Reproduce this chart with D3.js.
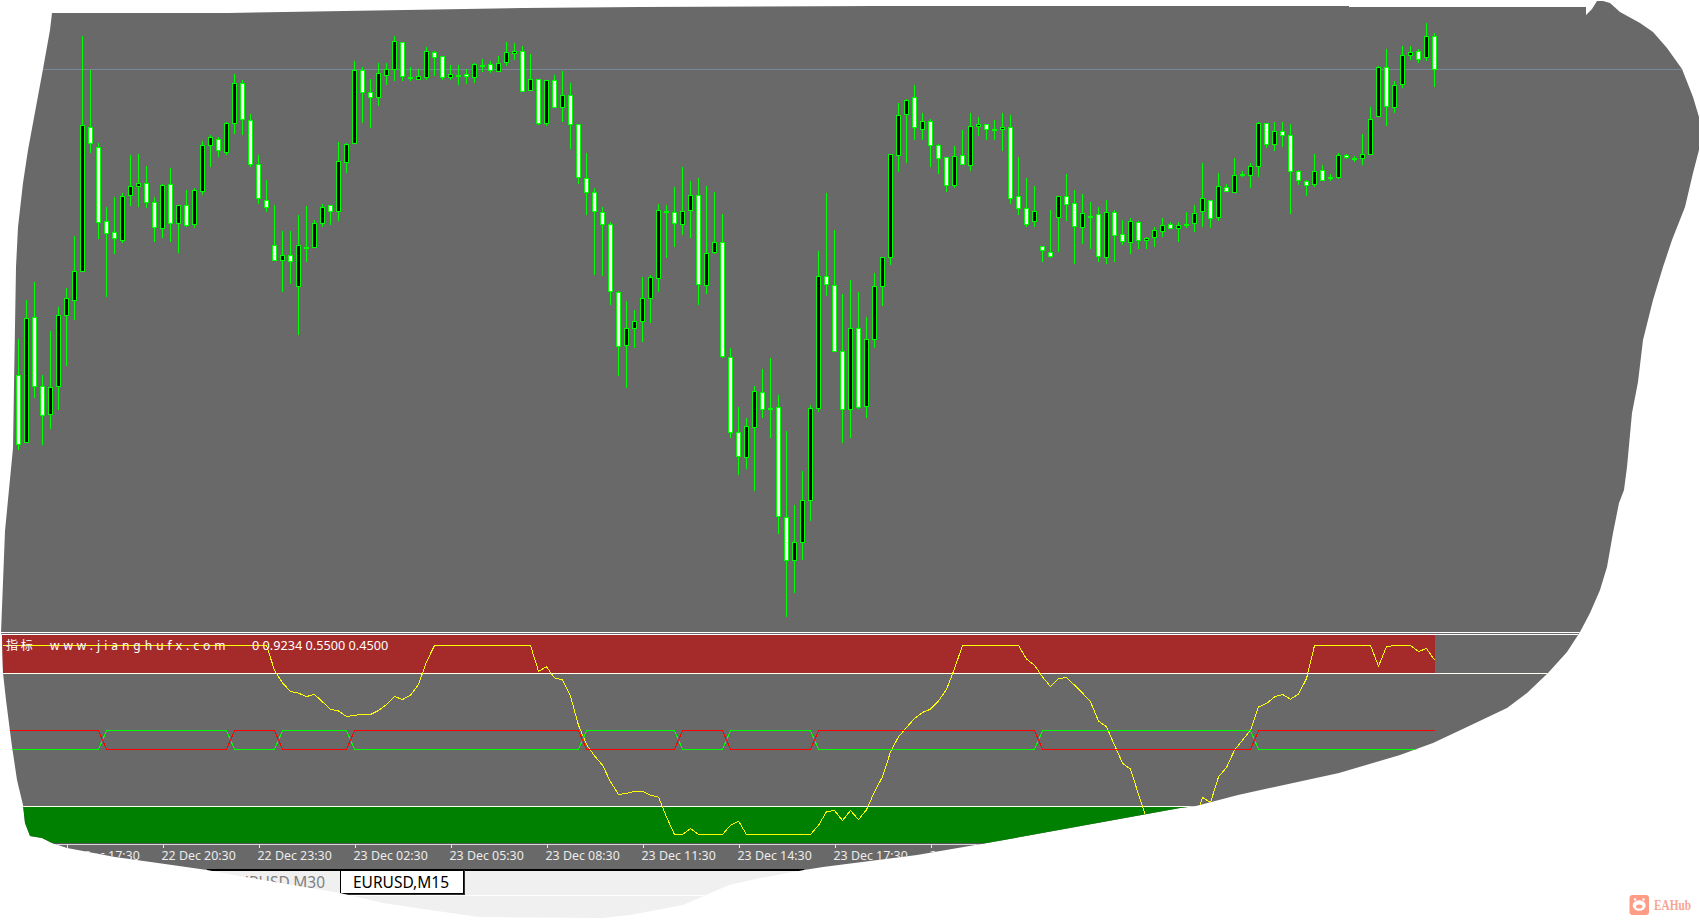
<!DOCTYPE html>
<html><head><meta charset="utf-8"><title>EURUSD,M15</title>
<script src="https://cdn.jsdelivr.net/npm/d3@7"></script>
<style>html,body{margin:0;padding:0;background:#fff;overflow:hidden}svg{display:block}</style>
</head><body><svg id="c" width="1700" height="920"></svg>
<script>
// Candle values, in points on the price axis
const opens=[873,672,1048,840,756,840,1054,1098,1185,1618,1558,1335,1302,1278,1413,1440,1450,1393,1314,1447,1330,1384,1326,1425,1564,1582,1542,1630,1750,1639,1506,1399,1263,1219,1233,1140,1256,1257,1330,1384,1366,1513,1570,1789,1723,1708,1774,1792,1873,1769,1762,1768,1842,1830,1768,1775,1777,1768,1803,1807,1785,1813,1840,1846,1728,1762,1629,1759,1678,1714,1627,1465,1423,1363,1327,1123,963,1015,1035,1105,1165,1367,1363,1327,1368,1414,1144,1242,1273,928,703,628,718,822,776,778,448,319,373,499,775,1171,1143,946,772,1015,780,982,1141,1228,1534,1657,1707,1612,1635,1564,1528,1444,1534,1504,1621,1627,1612,1612,1618,1411,1375,1335,1261,1243,1347,1411,1390,1317,1352,1357,1227,1363,1297,1273,1333,1279,1288,1306,1327,1315,1328,1330,1366,1399,1348,1438,1422,1476,1474,1501,1630,1567,1606,1594,1486,1456,1447,1489,1466,1467,1534,1524,1525,1536,1651,1798,1678,1747,1834,1846,1828,1891];
const highs=[982,1100,1153,875,1007,1078,1135,1292,1892,1790,1570,1378,1409,1420,1535,1538,1502,1409,1448,1496,1384,1430,1435,1577,1595,1588,1634,1778,1760,1658,1535,1460,1385,1307,1307,1355,1382,1340,1388,1384,1574,1570,1817,1798,1762,1811,1811,1892,1873,1799,1792,1859,1846,1831,1805,1805,1792,1810,1822,1816,1832,1874,1871,1862,1838,1762,1759,1775,1787,1750,1627,1540,1435,1378,1334,1126,1097,1070,1169,1174,1388,1384,1438,1499,1456,1465,1442,1423,1357,955,778,746,842,892,926,815,706,484,586,785,1247,1421,1310,1118,1160,1124,1048,1181,1228,1538,1690,1702,1744,1660,1642,1568,1529,1562,1610,1660,1648,1627,1640,1661,1654,1528,1466,1442,1261,1370,1411,1478,1429,1417,1394,1378,1399,1369,1340,1345,1336,1288,1318,1345,1333,1333,1363,1385,1510,1399,1481,1448,1525,1486,1510,1633,1630,1634,1634,1627,1489,1459,1538,1504,1477,1540,1537,1532,1597,1678,1801,1852,1756,1861,1861,1852,1931,1900];
const lows=[650,672,807,665,713,770,902,1040,1185,1540,1283,1110,1238,1272,1382,1380,1376,1274,1286,1274,1241,1320,1316,1415,1499,1529,1535,1598,1595,1500,1388,1364,1219,1124,1148,995,1214,1257,1319,1325,1337,1481,1570,1631,1616,1682,1745,1757,1757,1757,1759,1760,1772,1760,1760,1745,1748,1751,1784,1782,1785,1803,1820,1726,1728,1625,1623,1678,1635,1553,1448,1355,1175,1173,1085,873,837,957,975,1032,1125,1227,1260,1295,1287,1085,1118,1238,927,686,575,593,527,747,686,398,149,221,321,437,765,1113,946,672,687,774,747,957,1083,1205,1484,1512,1580,1580,1500,1479,1425,1437,1507,1487,1592,1580,1580,1547,1388,1355,1319,1319,1214,1227,1244,1337,1208,1268,1254,1214,1208,1214,1265,1238,1253,1253,1259,1289,1315,1274,1316,1304,1319,1316,1337,1426,1422,1468,1436,1469,1556,1547,1559,1358,1445,1412,1439,1457,1457,1462,1523,1514,1505,1536,1651,1622,1661,1736,1820,1811,1817,1739];
const closes=[667,1044,840,754,838,1054,1105,1186,1624,1570,1332,1300,1285,1410,1441,1450,1393,1318,1444,1330,1384,1323,1429,1564,1588,1549,1630,1750,1642,1506,1405,1378,1219,1233,1216,1263,1256,1330,1378,1366,1516,1567,1789,1723,1708,1780,1792,1876,1771,1769,1771,1846,1828,1768,1777,1775,1771,1807,1803,1789,1810,1843,1845,1726,1762,1630,1759,1678,1714,1627,1468,1423,1366,1327,1126,962,1015,1036,1105,1168,1369,1367,1330,1366,1414,1147,1240,1273,931,703,631,721,826,772,776,451,319,373,499,775,1171,1147,946,772,1015,778,982,1141,1228,1537,1653,1699,1618,1635,1564,1525,1444,1531,1507,1621,1627,1611,1612,1618,1404,1375,1326,1366,1248,1230,1411,1387,1320,1360,1352,1230,1363,1294,1276,1336,1279,1285,1309,1324,1315,1324,1328,1360,1405,1345,1441,1426,1474,1476,1501,1630,1567,1606,1594,1486,1459,1444,1486,1459,1466,1534,1528,1524,1537,1642,1798,1681,1744,1834,1843,1822,1891,1792];
const lastPrice=1792;

// Indicator pane: oscillator per bar, first value belongs to bar -2
const firstIndicatorBar=-2;
const oscillator=[1,1,1,1,1,1,1,1,1,1,1,1,1,1,1,1,1,1,1,1,1,1,1,1,1,1,1,1,1,1,1,1,1,1,
0.869,0.802,0.757,0.748,0.730,0.741,0.702,0.663,0.654,0.624,0.631,0.635,0.635,0.656,0.688,0.730,0.714,0.737,0.794,0.914,
1,1,1,1,1,1,1,1,1,1,1,1,1,
0.864,0.887,0.829,0.818,0.732,0.578,0.476,0.416,0.367,0.279,0.212,0.217,0.229,0.229,0.208,0.198,0.093,0,0,0.032,0,0,0,0,0.049,0.071,0,0,0,0,0,0,0,0,0,
0.049,0.120,0.127,0.074,0.127,0.079,0.131,0.226,0.305,0.437,0.517,0.566,0.614,0.646,0.663,0.707,0.767,0.878,
1,1,1,1,1,1,1,1,
0.928,0.896,0.834,0.783,0.824,0.831,0.790,0.748,0.702,0.600,0.570,0.473,0.377,0.346,0.212,0.085,0,0,0,0,0,0.056,0.196,0.169,0.305,0.354,0.446,0.499,0.552,0.675,0.693,0.728,0.741,0.716,0.743,0.825,
1,1,1,1,1,1,1,1,0.891,0.993,1,1,1,0.968,0.984,0.9234];
const upperLevel=0.55, lowerLevel=0.45;
const crossBars=[10,26,32,41,70,82,88,99,127,154]; // last bar before the red and green lines swap
const zoneHigh=0.85, zoneLow=0.15;

const tickBars=[6,18,30,42,54,66,78,90,102,114];
const tickLabels=["22 Dec 17:30","22 Dec 20:30","22 Dec 23:30","23 Dec 02:30","23 Dec 05:30","23 Dec 08:30","23 Dec 11:30","23 Dec 14:30","23 Dec 17:30","23 Dec 20:30"];
const tabNames=["EURUSD,M30","EURUSD,M15"];
const indicatorTitle="指 标";
const indicatorSite="www.jianghufx.com";
const indicatorValues="0 0.9234 0.5500 0.4500";

// Outline of the torn-out screenshot
const outline=[[52,13],[228,13],[405,10],[523,8],[640,7],[877,6],[1349,6],[1349,7],[1586,7],[1586,15],[1592,9],[1597,1],[1603,1],[1610,3],[1620,12],[1640,23],[1653,32],[1667,48],[1682,69],[1693,97],[1699,117],[1699,150],[1693,173],[1685,207],[1672,240],[1663,267],[1653,300],[1643,340],[1638,382],[1632,413],[1627,467],[1624,490],[1619,503],[1613,533],[1607,567],[1600,590],[1590,613],[1580,632],[1567,652],[1548,673],[1527,693],[1507,708],[1467,727],[1433,743],[1400,755],[1339,773],[1238,795],[1196,806],[1180,808],[987,843],[917,855],[823,867],[804,870],[760,878],[729,885],[706,895],[683,905],[630,915],[603,918],[478,917],[383,903],[340,893],[245,877],[207,870],[165,864],[115,857],[67,848],[52,843],[42,838],[30,836],[25,823],[23,805],[17,780],[11.5,743],[6,700],[3,673],[2,635],[1,633],[5,531],[13,448],[14,385],[16,267],[18,227],[23,183],[28,150],[33,123],[43,69],[50,30]];

const svg=d3.select("#c");
const UI='"Noto Sans",sans-serif';
svg.append("defs").append("clipPath").attr("id","torn").append("path")
  .attr("d",d3.line()(outline)+"Z");
const root=svg.append("g").attr("clip-path","url(#torn)");

const x=d3.scaleLinear().domain([0,177]).range([18.5,1434.5]);
const y=d3.scaleLinear().domain([80,2000]).range([640,0]);
const yi=d3.scaleLinear().domain([0,1]).range([834.5,645.5]);
const px=v=>Math.round(v-0.5)+0.5;

// backgrounds
root.append("rect").attr("width",1700).attr("height",870).attr("fill","#696969");
root.append("rect").attr("y",870).attr("width",1700).attr("height",50).attr("fill","#f0f0f0");
root.append("line").attr("x1",0).attr("x2",1700).attr("y1",895.5).attr("y2",895.5).attr("stroke","#fff");

// price line
root.append("line").attr("x1",0).attr("x2",1700).attr("y1",px(y(lastPrice))).attr("y2",px(y(lastPrice)))
  .attr("stroke","#778899").attr("shape-rendering","crispEdges");

// candles
const bars=opens.map((o,i)=>({i,o,h:highs[i],l:lows[i],c:closes[i]}));
const g=root.append("g").attr("shape-rendering","crispEdges");
g.selectAll("line.w").data(bars).join("line").attr("class","w")
  .attr("x1",d=>x(d.i)).attr("x2",d=>x(d.i))
  .attr("y1",d=>Math.round(y(d.h))).attr("y2",d=>Math.round(y(d.l)))
  .attr("stroke","#00ff00");
g.selectAll("rect.b").data(bars).join("rect").attr("class","b")
  .attr("x",d=>x(d.i)-2).attr("width",4)
  .attr("y",d=>px(y(Math.max(d.o,d.c))))
  .attr("height",d=>Math.max(1,Math.round(Math.abs(y(d.o)-y(d.c)))))
  .attr("fill",d=>d.o===d.c?"#00ff00":d.c>d.o?"#000":"#fff")
  .attr("stroke","#00ff00");

// indicator pane
const ind=root.append("g").attr("shape-rendering","crispEdges");
ind.append("line").attr("x1",0).attr("x2",1700).attr("y1",632.5).attr("y2",632.5).attr("stroke","#fff");
ind.append("line").attr("x1",0).attr("x2",1700).attr("y1",634.5).attr("y2",634.5).attr("stroke","#fff");
const last=bars.length-1;
ind.append("rect").attr("x",0).attr("width",x(last)).attr("y",635).attr("height",px(yi(zoneHigh))-635).attr("fill","#a52a2a");
ind.append("rect").attr("x",0).attr("width",x(last)).attr("y",px(yi(zoneLow))).attr("height",843-px(yi(zoneLow))).attr("fill","#008000");
[zoneHigh,zoneLow].forEach(l=>ind.append("line").attr("x1",0).attr("x2",1700).attr("y1",px(yi(l))).attr("y2",px(yi(l))).attr("stroke","#fffff0"));

const idxs=oscillator.map((_,k)=>k+firstIndicatorBar);
const lineGen=d3.line().x(d=>x(d[0])).y(d=>yi(d[1]));
ind.append("path").datum(idxs.map((b,k)=>[b,oscillator[k]])).attr("d",lineGen).attr("fill","none").attr("stroke","#ffff00");
const isUp=b=>crossBars.filter(c=>c<b).length%2===0;
ind.append("path").datum(idxs.map(b=>[b,isUp(b)?lowerLevel:upperLevel])).attr("d",lineGen).attr("fill","none").attr("stroke","#00ff00");
ind.append("path").datum(idxs.map(b=>[b,isUp(b)?upperLevel:lowerLevel])).attr("d",lineGen).attr("fill","none").attr("stroke","#ff0000");

// time axis
root.append("line").attr("x1",0).attr("x2",1700).attr("y1",843.5).attr("y2",843.5).attr("stroke","#555").attr("shape-rendering","crispEdges");
root.append("line").attr("x1",0).attr("x2",1700).attr("y1",844.5).attr("y2",844.5).attr("stroke","#d8d8d8").attr("shape-rendering","crispEdges");
const ax=root.append("g").attr("transform","translate(0,845)")
  .call(d3.axisBottom(x).tickValues(tickBars).tickFormat((d,i)=>tickLabels[i]).tickSize(3));
ax.select(".domain").remove();
ax.selectAll(".tick line").attr("stroke","#e8e8e8").attr("shape-rendering","crispEdges");
ax.selectAll(".tick text").attr("text-anchor","start").attr("x",-1.5).attr("y",6).attr("dy","0.71em")
  .attr("fill","#ececec").attr("font-family",UI).attr("font-size",12.4);

// pane caption
const cap=root.append("g").attr("fill","#fff").attr("font-family",UI).attr("font-size",12);
cap.append("text").attr("x",6).attr("y",650).attr("font-family",'"Noto Sans CJK SC"').attr("font-size",12).text(indicatorTitle);
cap.append("text").attr("x",50).attr("y",650).attr("letter-spacing",4).text(indicatorSite);
cap.append("text").attr("x",252).attr("y",650).attr("font-size",12.7).text(indicatorValues);

// tabs
const tabs=root.append("g").attr("font-family",UI).attr("font-size",15.5);
tabs.append("line").attr("x1",207).attr("x2",804).attr("y1",870).attr("y2",870).attr("stroke","#000").attr("stroke-width",2).attr("shape-rendering","crispEdges");
tabs.append("text").attr("x",229).attr("y",888).attr("fill","#808080").text(tabNames[0]);
tabs.append("rect").attr("x",340.5).attr("y",870.5).attr("width",123).attr("height",23).attr("fill","#fff").attr("stroke","#000").attr("shape-rendering","crispEdges");
tabs.append("polyline").attr("points","464.5,870 464.5,894.5 340,894.5").attr("fill","none").attr("stroke","#333").attr("shape-rendering","crispEdges");
tabs.append("text").attr("x",353).attr("y",888).attr("fill","#000").text(tabNames[1]);

// watermark
const wm=svg.append("g");
wm.append("rect").attr("x",1629.5).attr("y",895).attr("width",19.5).attr("height",20).attr("rx",3).attr("fill","#ff9c85");
wm.append("ellipse").attr("cx",1639.2).attr("cy",905.5).attr("rx",6.5).attr("ry",5.2).attr("fill","#fff");
wm.append("circle").attr("cx",1635).attr("cy",899.5).attr("r",1.2).attr("fill","#fff");
wm.append("circle").attr("cx",1643.5).attr("cy",899.5).attr("r",1.2).attr("fill","#fff");
wm.append("ellipse").attr("cx",1639.2).attr("cy",906.5).attr("rx",3.2).attr("ry",2).attr("fill","#ff9c85");
wm.append("text").attr("x",1654).attr("y",910).attr("font-family",'"Liberation Serif",serif').attr("font-weight","bold").attr("font-size",14).attr("textLength",37).attr("lengthAdjust","spacingAndGlyphs").attr("fill","#f8a595").text("EAHub");
</script></body></html>
